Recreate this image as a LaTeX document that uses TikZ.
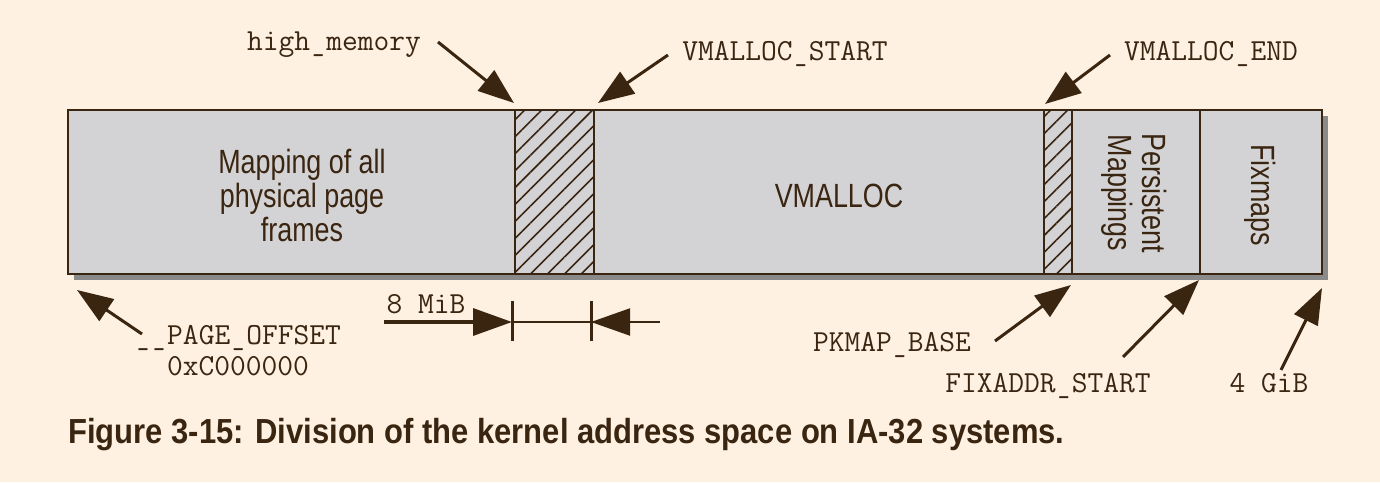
\documentclass[tikz,border=0pt]{standalone}
\usepackage{fontspec}
\usepackage{graphicx}
\newfontfamily\condsans[FakeStretch=0.8]{Liberation Sans}
\newfontfamily\capfont[FakeStretch=0.89]{Liberation Sans}
\newcommand\us{\makebox[0.525em]{\scalebox{0.76}[1]{\_}}}
\usetikzlibrary{arrows.meta,patterns.meta}
\definecolor{bg}{HTML}{FEF1E2}
\definecolor{boxgray}{HTML}{D3D3D6}
\definecolor{shadowgray}{HTML}{8A8A8A}
\definecolor{ink}{HTML}{3A2511}
\tikzset{
  hatch/.style={pattern={Lines[angle=45,distance=6pt,line width=0.8pt]}, pattern color=ink},
  divider/.style={draw=ink, line width=0.9pt},
  mono/.style={font=\ttfamily\fontsize{15.3}{17}\selectfont, text=ink, inner sep=0pt, anchor=base},
  inlabel/.style={font=\condsans\fontsize{16.8}{17}\selectfont, text=ink, align=center, inner sep=0pt},
  ptr/.style={draw=ink, line width=1.5pt, -{Triangle[length=18pt,width=13pt]}},
  dimhead/.style={-{Triangle[length=19.5pt,width=13.5pt]}},
  tick/.style={draw=ink, line width=1.5pt}
}
\begin{document}
\begin{tikzpicture}[x=0.5pt,y=-0.5pt]
\fill[bg] (0,0) rectangle (1380,482);
\useasboundingbox (0,0) rectangle (1380,482);
% bar
\fill[shadowgray] (74,116) rectangle (1328,280);
\fill[boxgray] (68,110) rectangle (1322,274);
\fill[hatch] (515,110) rectangle (594,274);
\fill[hatch] (1044,110) rectangle (1072,274);
\draw[divider] (515,110) -- (515,274);
\draw[divider] (594,110) -- (594,274);
\draw[divider] (1044,110) -- (1044,274);
\draw[divider] (1072,110) -- (1072,274);
\draw[divider] (1200,110) -- (1200,274);
\draw[draw=ink, line width=1pt] (68,110) rectangle (1322,274);
% inner labels
\node[inlabel] (map) at (302,195) {Mapping of all\\physical page\\frames};
\node[inlabel] (vm) at (839,196) {VMALLOC};
\node[inlabel, rotate=-90] (pm) at (1134,193) {Persistent\\Mappings};
\node[inlabel, rotate=-90] (fm) at (1260,195) {Fixmaps};
% mono labels
\node[mono] (hm) at (334,50) {high\us memory};
\node[mono] (vs) at (785,60) {VMALLOC\us START};
\node[mono] (ve) at (1211,60) {VMALLOC\us END};
\node[mono] (po) at (238,344) {\us\us PAGE\us OFFSET};
\node[mono] (hex) at (238,375) {0xC000000};
\node[mono] (mib) at (426,313) {8 MiB};
\node[mono] (pk) at (892,351) {PKMAP\us BASE};
\node[mono] (fx) at (1048,392) {FIXADDR\us START};
\node[mono] (gib) at (1269,392) {4 GiB};
% pointer arrows
\coordinate (hmA) at (438,42);   \coordinate (hmB) at (514,103);
\coordinate (vsA) at (668,55);   \coordinate (vsB) at (598,103);
\coordinate (veA) at (1110,55);  \coordinate (veB) at (1045,104);
\coordinate (poA) at (142,334);  \coordinate (poB) at (77,290);
\coordinate (pkA) at (995,341);  \coordinate (pkB) at (1071,285);
\coordinate (fxA) at (1123,357); \coordinate (fxB) at (1199,280);
\coordinate (gbA) at (1281,370); \coordinate (gbB) at (1322,288);
\draw[ptr] (hmA) -- (hmB);
\draw[ptr] (vsA) -- (vsB);
\draw[ptr] (veA) -- (veB);
\draw[ptr] (poA) -- (poB);
\draw[ptr] (pkA) -- (pkB);
\draw[ptr] (fxA) -- (fxB);
\draw[ptr] (gbA) -- (gbB);
% 8 MiB dimension
\coordinate (dL) at (384,322); \coordinate (d1) at (512,322);
\coordinate (d2) at (591,322); \coordinate (dR) at (660,322);
\coordinate (t1a) at (512,301); \coordinate (t1b) at (512,341);
\coordinate (t2a) at (591,301); \coordinate (t2b) at (591,341);
\draw[draw=ink, line width=1.7pt, dimhead] (dL) -- (d1);
\draw[draw=ink, line width=1pt] (d1) -- (d2);
\draw[draw=ink, line width=1pt, dimhead] (dR) -- (d2);
\draw[tick] (t1a) -- (t1b);
\draw[tick] (t2a) -- (t2b);
% caption
\node[font=\capfont\bfseries\fontsize{17.4}{20}\selectfont, text=ink, anchor=base west, inner sep=0pt] (cap) at (68,443) {Figure 3-15: Division of the kernel address space on IA-32 systems.};
\end{tikzpicture}
\end{document}
